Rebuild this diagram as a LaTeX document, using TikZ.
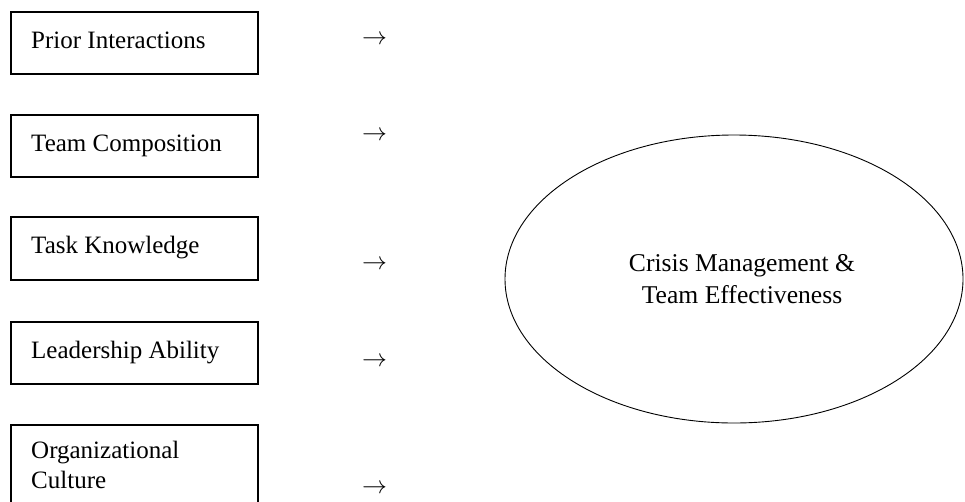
\documentclass[tikz,border=0pt]{standalone}
\usepackage{fontspec}
\setmainfont{Liberation Serif}
\usetikzlibrary{shapes.geometric}
\begin{document}
\begin{tikzpicture}[x=1pt,y=-1pt,
  factorbox/.style={draw,line width=1.3pt},
  lbl/.style={anchor=base west,inner sep=0pt,font=\fontsize{25}{30}\selectfont,align=left},
  arr/.style={anchor=base west,inner sep=0pt,font=\fontsize{25}{30}\selectfont},
  oval/.style={draw,ellipse,line width=0.9pt,minimum width=458pt,minimum height=288pt,inner sep=0pt},
  ovaltext/.style={inner sep=0pt,font=\fontsize{25.6}{32}\selectfont,align=center}]
\useasboundingbox (0,0) rectangle (965,501);
\clip (0,0) rectangle (965,501);
\fill[white] (0,0) rectangle (965,501);
% boxes
\draw[factorbox] (11,12) rectangle (258,74);
\draw[factorbox] (11,115) rectangle (258,177);
\draw[factorbox] (11,217) rectangle (258,280);
\draw[factorbox] (11,322) rectangle (258,384);
\draw[factorbox] (11,425) rectangle (258,520);
% labels
\node[lbl] (t1) at (31,48) {Prior Interactions};
\node[lbl] (t2) at (31,151) {Team Composition};
\node[lbl] (t3) at (31,253) {Task Knowledge};
\node[lbl] (t4) at (31,358) {Leadership Ability};
\node[lbl] (t5) at (31,488) {Organizational\\Culture};
% arrows
\node[arr] (a1) at (362,44) {$\rightarrow$};
\node[arr] (a2) at (362,140) {$\rightarrow$};
\node[arr] (a3) at (362,269) {$\rightarrow$};
\node[arr] (a4) at (362,366) {$\rightarrow$};
\node[arr] (a5) at (362,493) {$\rightarrow$};
% outcome
\node[oval] (out) at (734,279) {};
\node[ovaltext] (outt) at (742,279) {Crisis Management \&\\Team Effectiveness};
\end{tikzpicture}
\end{document}
